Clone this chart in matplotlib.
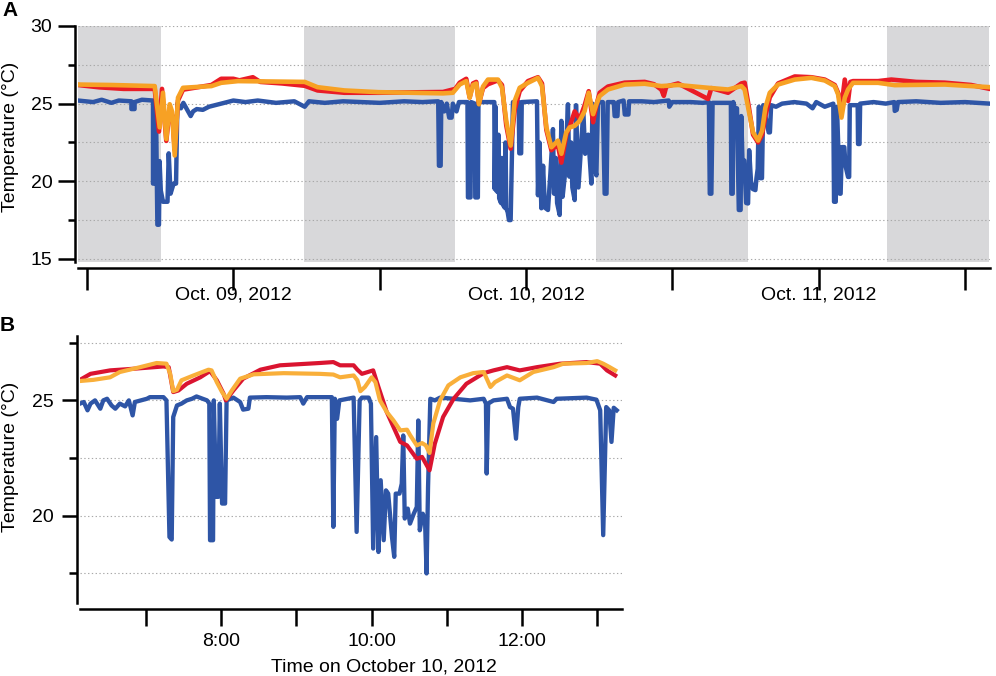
import matplotlib
matplotlib.use("Agg")
import matplotlib.pyplot as plt
from matplotlib.ticker import FixedLocator, FixedFormatter

plt.rcParams["font.family"] = ["Liberation Sans", "DejaVu Sans"]
plt.rcParams["font.size"] = 14

BLUE = "#2E55A6"
RED_A = "#EA1C26"
ORANGE_A = "#F7A124"
RED_B = "#DA1430"
ORANGE_B = "#F9AF3A"
NIGHT = "#D8D8DA"
GRID = "#A8A8A8"

# ---- panel A: hours after Oct. 09, 2012 00:00 ----
A_XLIM = (-0.74, 74.05)
A_NIGHTS = [(-0.74, 6.1), (17.8, 30.15), (41.75, 54.2), (65.6, 74.0)]
A_TICKS = [0, 12, 24, 36, 48, 60, 72]
A_TICK_LABELS = ["", "Oct. 09, 2012", "", "Oct. 10, 2012", "", "Oct. 11, 2012", ""]

A_ORANGE = [
    (-0.74, 26.23), (2.0, 26.2), (5.55, 26.13), (5.96, 23.47), (6.23, 25.7),
    (6.5, 22.72), (6.78, 24.96), (6.97, 24.5), (7.19, 21.66), (7.46, 25.38),
    (7.87, 26.02), (10.2, 26.13), (11.0, 26.34), (12.38, 26.45), (17.85, 26.4),
    (18.9, 26.06), (21.1, 25.85), (23.87, 25.74), (29.19, 25.66), (30.0, 25.7),
    (30.56, 26.23), (31.1, 26.45), (31.38, 25.38), (31.65, 26.2), (31.92, 26.3),
    (32.14, 24.96), (32.47, 26.1), (32.88, 26.55), (33.7, 26.55), (34.03, 26.02),
    (34.38, 23.9), (34.74, 22.3), (35.07, 25.17), (35.48, 26.02), (36.16, 26.34),
    (36.98, 26.66), (37.31, 26.13), (37.67, 23.47), (38.08, 22.19), (38.35, 22.4),
    (38.62, 22.62), (38.9, 21.77), (39.3, 23.15), (39.58, 23.47), (39.99, 23.57),
    (40.4, 23.89), (40.81, 24.53), (41.14, 25.7), (41.5, 24.32), (41.77, 24.96),
    (42.04, 25.49), (42.72, 25.91), (44.09, 26.23), (45.73, 26.28), (47.1, 26.13),
    (48.47, 26.2), (50.93, 26.02), (52.57, 25.91), (53.66, 26.13), (53.93, 25.91),
    (54.27, 24.53), (54.62, 23.15), (55.03, 22.62), (55.36, 23.26), (55.63, 24.74),
    (55.99, 25.7), (56.67, 26.23), (58.04, 26.55), (59.4, 26.66), (60.5, 26.49),
    (61.32, 26.13), (61.59, 25.6), (61.87, 24.1), (62.14, 25.38), (62.41, 25.91),
    (62.82, 26.34), (64.87, 26.34), (66.24, 26.19), (70.34, 26.23), (74.03, 26.06),
]

A_RED = [
    (-0.74, 26.2), (1.0, 26.05), (3.0, 25.95), (5.55, 25.95), (5.9, 23.2),
    (6.15, 25.95), (6.5, 22.6), (6.78, 24.7), (7.0, 24.2), (7.19, 22.0),
    (7.46, 25.2), (7.87, 25.9), (10.2, 26.2), (11.0, 26.6), (12.0, 26.6),
    (12.5, 26.5), (13.6, 26.7), (14.2, 26.4), (16.0, 26.3), (17.85, 26.15),
    (18.9, 25.85), (21.1, 25.7), (23.87, 25.7), (29.19, 25.75), (30.2, 25.95),
    (30.56, 26.35), (31.1, 26.6), (31.38, 25.4), (31.65, 26.3), (31.92, 26.4),
    (32.14, 25.0), (32.47, 26.0), (32.88, 26.25), (33.7, 26.5), (34.03, 26.2),
    (34.38, 23.6), (34.74, 22.1), (35.07, 24.6), (35.48, 25.8), (36.16, 26.45),
    (36.98, 26.7), (37.31, 26.3), (37.67, 23.3), (38.08, 22.0), (38.35, 22.2),
    (38.62, 22.3), (38.9, 21.2), (39.3, 23.0), (39.58, 23.5), (39.99, 24.5),
    (40.4, 24.0), (40.81, 24.9), (41.14, 25.8), (41.5, 23.8), (41.77, 24.9),
    (42.04, 25.7), (42.72, 26.1), (44.09, 26.35), (45.73, 26.4), (46.5, 26.25),
    (47.1, 25.9), (47.3, 25.5), (47.5, 26.1), (48.47, 26.3), (50.93, 25.3),
    (51.2, 26.0), (52.57, 25.7), (53.66, 26.3), (53.93, 26.35), (54.27, 24.8),
    (54.62, 23.0), (55.03, 22.5), (55.36, 23.0), (55.63, 24.2), (55.99, 25.4),
    (56.67, 26.3), (58.04, 26.75), (59.4, 26.7), (60.5, 26.55), (61.32, 26.2),
    (61.59, 25.7), (61.87, 24.8), (62.14, 26.55), (62.41, 25.17), (62.6, 26.4),
    (62.82, 26.45), (64.87, 26.45), (65.96, 26.55), (68.0, 26.4), (70.34, 26.35),
    (72.5, 26.2), (74.03, 25.95),
]

A_BLUE = [
    (-0.74, 25.2), (0.5, 25.1), (1.2, 25.25), (2.0, 25.05), (2.6, 25.2),
    (3.64, 25.15), (3.64, 24.65), (3.9, 24.65), (3.9, 25.1), (4.5, 25.25),
    (5.41, 25.2), (5.41, 19.85), (5.6, 19.85), (5.65, 25.0), (5.77, 17.2),
    (5.9, 17.2), (5.95, 21.3), (6.05, 19.4), (6.23, 18.68), (6.6, 18.68),
    (6.7, 21.8), (6.85, 19.2), (7.1, 19.85), (7.3, 19.85), (7.41, 25.0),
    (7.7, 24.7), (7.9, 25.05), (8.5, 24.2), (8.7, 24.5), (9.0, 24.65),
    (9.5, 24.6), (10.0, 24.8), (11.0, 25.0), (12.0, 25.2), (13.0, 25.1),
    (14.0, 25.2), (15.5, 25.05), (17.0, 25.15), (17.85, 24.8), (18.2, 25.15),
    (19.5, 25.05), (21.0, 25.15), (22.5, 25.1), (24.0, 25.05), (26.0, 25.15),
    (27.5, 25.1), (28.8, 25.15), (28.86, 21.0), (29.0, 21.0), (29.05, 25.1),
    (29.3, 24.5), (29.5, 25.0), (29.7, 24.1), (29.9, 24.1), (30.0, 25.0),
    (30.3, 24.5), (30.5, 25.1), (31.2, 25.1), (31.24, 18.96), (31.45, 18.96),
    (31.5, 25.1), (31.8, 25.0), (31.84, 18.96), (32.05, 18.96), (32.1, 25.1),
    (33.4, 25.1), (33.43, 19.5), (33.5, 24.8), (33.56, 19.4), (33.68, 19.3),
    (33.74, 23.0), (33.8, 18.9), (33.95, 18.6), (34.02, 21.5), (34.1, 18.5),
    (34.25, 18.3), (34.32, 22.5), (34.38, 18.26), (34.5, 18.0), (34.6, 17.5),
    (34.74, 17.5), (34.93, 25.1), (35.4, 25.1), (35.45, 21.8),
    (35.6, 21.8), (35.65, 25.1), (36.9, 25.15), (36.98, 19.1), (37.1, 22.5),
    (37.26, 18.26), (37.4, 21.0), (37.55, 18.3), (37.8, 18.15), (38.0, 20.5),
    (38.21, 23.36), (38.3, 19.2), (38.45, 21.5), (38.55, 18.6),
    (38.76, 17.83), (38.9, 23.89), (39.0, 19.0), (39.2, 20.5), (39.44, 24.96),
    (39.55, 20.3), (39.7, 22.5), (39.8, 19.6), (39.99, 18.79), (40.1, 24.9),
    (40.3, 19.6), (40.5, 22.0), (40.7, 24.5), (40.85, 21.77), (41.1, 23.0),
    (41.36, 19.85), (41.45, 25.0), (41.6, 21.0), (41.77, 20.38), (41.9, 25.1),
    (42.3, 25.1), (42.45, 19.2), (42.6, 19.2), (42.7, 25.1), (43.2, 25.1),
    (43.27, 24.2), (43.5, 24.2), (43.55, 25.1), (44.0, 25.2), (44.1, 24.3),
    (44.4, 24.3), (44.45, 25.15), (45.5, 25.15), (46.5, 25.1), (47.7, 25.2),
    (47.75, 24.8), (48.0, 25.1), (49.5, 25.1), (50.5, 25.05), (51.0, 25.1),
    (51.07, 19.2), (51.2, 19.2), (51.3, 25.05), (52.8, 25.05), (52.84, 19.2),
    (52.95, 19.2), (53.0, 25.1), (53.1, 24.7), (53.3, 24.7), (53.45, 18.15),
    (53.6, 18.15), (53.65, 24.2), (53.75, 21.34), (53.9, 21.34), (54.05, 18.6),
    (54.21, 18.57), (54.3, 22.0), (54.45, 20.0), (54.6, 19.5), (54.81, 19.43),
    (54.9, 20.2), (55.0, 20.8), (55.1, 24.8), (55.2, 20.2), (55.35, 20.2),
    (55.45, 24.9), (55.9, 23.15), (56.0, 23.15), (56.1, 24.9), (56.5, 24.8),
    (57.0, 25.0), (58.0, 25.1), (59.0, 25.0), (59.5, 24.7), (59.8, 25.1),
    (60.5, 24.8), (61.2, 25.0), (61.26, 18.68), (61.4, 18.68), (61.5, 24.8),
    (61.73, 19.2), (61.8, 19.2), (61.9, 22.2), (62.1, 22.2), (62.2, 21.0),
    (62.41, 20.28), (62.5, 20.28), (62.55, 24.9), (63.2, 24.9), (63.23, 22.4),
    (63.35, 22.4), (63.4, 25.0), (64.5, 25.1), (65.5, 25.0), (66.2, 25.1),
    (66.24, 24.53), (66.4, 24.6), (66.5, 25.1), (68.0, 25.15), (70.0, 25.05),
    (72.0, 25.1), (74.03, 25.0),
]

# ---- panel B: clock hours on Oct. 10, 2012 ----
B_XLIM = (6.12, 13.33)
B_TICKS = [7, 8, 9, 10, 11, 12, 13]
B_TICK_LABELS = ["", "8:00", "", "10:00", "", "12:00", ""]

B_ORANGE = [
    (6.12, 25.84), (6.3, 25.89), (6.52, 26.0), (6.65, 26.23), (6.92, 26.44),
    (7.14, 26.62), (7.27, 26.59), (7.32, 26.15), (7.36, 25.4), (7.41, 25.46),
    (7.47, 25.87), (7.63, 26.08), (7.83, 26.33), (7.87, 26.3), (7.94, 25.79),
    (8.01, 25.36), (8.07, 25.07), (8.14, 25.43), (8.25, 25.94), (8.43, 26.13),
    (8.83, 26.18), (9.31, 26.15), (9.49, 26.12), (9.58, 26.0), (9.76, 26.08),
    (9.81, 25.87), (9.85, 25.4), (9.91, 25.58), (10.0, 26.0), (10.05, 25.79),
    (10.11, 25.0), (10.2, 24.5), (10.29, 24.13), (10.38, 23.7), (10.47, 23.73),
    (10.51, 23.5), (10.6, 23.05), (10.67, 23.15), (10.72, 23.05), (10.77, 22.72),
    (10.82, 24.0), (10.91, 25.0), (11.02, 25.65), (11.18, 26.0), (11.35, 26.18),
    (11.49, 26.23), (11.53, 25.94), (11.58, 25.58), (11.64, 25.79), (11.8, 26.08),
    (11.97, 25.87), (12.15, 26.23), (12.42, 26.44), (12.55, 26.59), (12.86, 26.62),
    (13.0, 26.7), (13.08, 26.59), (13.16, 26.45), (13.24, 26.3),
]

B_RED = [
    (6.12, 25.89), (6.26, 26.15), (6.52, 26.3), (6.83, 26.37), (7.23, 26.47),
    (7.3, 26.44), (7.36, 25.36), (7.43, 25.43), (7.54, 25.72), (7.72, 26.0),
    (7.85, 26.27), (7.94, 25.87), (8.03, 25.29), (8.06, 25.0), (8.16, 25.43),
    (8.29, 25.94), (8.52, 26.33), (8.78, 26.52), (9.31, 26.62), (9.49, 26.66),
    (9.58, 26.52), (9.76, 26.52), (9.81, 26.33), (9.87, 26.15), (10.02, 26.3),
    (10.09, 25.58), (10.2, 24.5), (10.38, 23.2), (10.47, 23.05), (10.6, 22.47),
    (10.67, 22.55), (10.77, 21.97), (10.84, 23.12), (10.95, 24.28), (11.09, 25.07),
    (11.26, 25.72), (11.49, 26.18), (11.62, 26.3), (11.8, 26.44), (11.97, 26.3),
    (12.2, 26.44), (12.51, 26.59), (12.86, 26.66), (13.04, 26.59), (13.13, 26.3),
    (13.24, 26.08),
]

B_BLUE = [
    (6.12, 24.86), (6.17, 24.93), (6.22, 24.57), (6.26, 24.86), (6.32, 25.0),
    (6.39, 24.64), (6.43, 25.0), (6.48, 25.07), (6.54, 24.78), (6.59, 24.64),
    (6.65, 24.86), (6.72, 24.74), (6.77, 25.0), (6.82, 24.35), (6.85, 24.93),
    (7.01, 25.07), (7.05, 25.14), (7.23, 25.14), (7.27, 25.0), (7.31, 19.08),
    (7.34, 18.97), (7.36, 24.28), (7.41, 24.78), (7.47, 24.86), (7.54, 25.0),
    (7.61, 25.07), (7.67, 25.17), (7.81, 25.0), (7.84, 24.86), (7.85, 18.94),
    (7.89, 18.94), (7.9, 25.0), (7.93, 20.82), (7.96, 20.82), (7.98, 24.86),
    (8.01, 20.53), (8.05, 20.53), (8.07, 25.0), (8.16, 25.12), (8.25, 24.93),
    (8.29, 24.6), (8.36, 24.64), (8.38, 25.12), (8.6, 25.14), (8.87, 25.12),
    (9.05, 25.14), (9.09, 24.86), (9.14, 25.14), (9.31, 25.14), (9.47, 25.14),
    (9.49, 19.52), (9.51, 25.07), (9.54, 24.2), (9.57, 25.0), (9.76, 25.12),
    (9.8, 19.3), (9.84, 25.0), (9.87, 25.12), (9.96, 25.12), (9.99, 24.86),
    (10.02, 18.58), (10.06, 23.41), (10.09, 18.43), (10.12, 21.54), (10.16, 18.94),
    (10.19, 21.1), (10.22, 20.96), (10.27, 19.08), (10.3, 18.22), (10.32, 20.96),
    (10.37, 20.96), (10.4, 21.39), (10.42, 23.48), (10.44, 19.88), (10.48, 20.31),
    (10.51, 19.66), (10.56, 20.09), (10.6, 20.38), (10.62, 24.13), (10.64, 19.37),
    (10.68, 20.09), (10.71, 19.8), (10.73, 17.5), (10.75, 21.25), (10.78, 25.07),
    (10.84, 25.0), (10.91, 25.12), (11.09, 25.07), (11.31, 25.0), (11.49, 25.07),
    (11.52, 24.86), (11.53, 21.83), (11.55, 24.86), (11.62, 25.0), (11.8, 25.07),
    (11.84, 24.71), (11.88, 24.64), (11.92, 23.34), (11.95, 24.71), (11.97, 25.07),
    (12.2, 25.12), (12.42, 24.93), (12.46, 25.07), (12.86, 25.12), (12.99, 25.03),
    (13.04, 24.57), (13.08, 19.16), (13.12, 24.71), (13.16, 24.57), (13.19, 23.2),
    (13.22, 24.68), (13.26, 24.57),
]


def unzip(points):
    return [p[0] for p in points], [p[1] for p in points]


def style_axis(ax, ylim, major_y, minor_y, xlen, ylen, ymlen, ypad, xpad):
    ax.set_ylim(*ylim)
    for side in ["top", "right"]:
        ax.spines[side].set_visible(False)
    for side in ["left", "bottom"]:
        ax.spines[side].set_linewidth(1.8)
    ax.spines["left"].set_position(("outward", 2))
    ax.spines["bottom"].set_position(("outward", 4))
    ax.set_yticks(major_y)
    ax.set_yticklabels([str(v) for v in major_y])
    ax.set_yticks(minor_y, minor=True)
    ax.tick_params(axis="y", which="major", direction="out", length=ylen,
                   width=1.8, pad=ypad)
    ax.tick_params(axis="y", which="minor", direction="out", length=ymlen,
                   width=1.8)
    ax.tick_params(axis="x", which="major", direction="out", length=xlen,
                   width=1.8, pad=xpad)
    for v in list(major_y) + list(minor_y):
        ax.axhline(v, color=GRID, lw=0.8, ls=(0, (1.2, 2.2)), zorder=0.5)


fig = plt.figure(figsize=(9.96, 6.76), dpi=100)

# panel A
ax_a = fig.add_axes([78 / 996, 1 - 262 / 676, 912 / 996, 236 / 676])
for start, end in A_NIGHTS:
    ax_a.axvspan(start, end, color=NIGHT, lw=0, zorder=0)
x, y = unzip(A_BLUE)
ax_a.plot(x, y, color=BLUE, lw=3.2, zorder=2)
x, y = unzip(A_RED)
ax_a.plot(x, y, color=RED_A, lw=3.3, zorder=3)
x, y = unzip(A_ORANGE)
ax_a.plot(x, y, color=ORANGE_A, lw=3.3, zorder=4)
ax_a.set_xlim(*A_XLIM)
ax_a.xaxis.set_major_locator(FixedLocator(A_TICKS))
ax_a.xaxis.set_major_formatter(FixedFormatter(A_TICK_LABELS))
style_axis(ax_a, (14.8, 30), [15, 20, 25, 30], [17.5, 22.5, 27.5],
           xlen=16, ylen=12, ymlen=5, ypad=4.5, xpad=-2.5)

# panel B
ax_b = fig.add_axes([80 / 996, 1 - 603 / 676, 542 / 996, 267 / 676])
x, y = unzip(B_BLUE)
ax_b.plot(x, y, color=BLUE, lw=3.1, zorder=2)
x, y = unzip(B_RED)
ax_b.plot(x, y, color=RED_B, lw=3.0, zorder=3)
x, y = unzip(B_ORANGE)
ax_b.plot(x, y, color=ORANGE_B, lw=3.0, zorder=4)
ax_b.set_xlim(*B_XLIM)
ax_b.xaxis.set_major_locator(FixedLocator(B_TICKS))
ax_b.xaxis.set_major_formatter(FixedFormatter(B_TICK_LABELS))
style_axis(ax_b, (16.22, 27.79), [20, 25], [17.5, 22.5, 27.5],
           xlen=12, ylen=11, ymlen=6, ypad=6, xpad=5.5)

fig.text(11 / 996, 1 - 137 / 676, "Temperature (°C)", rotation=90,
         ha="center", va="center")
fig.text(11 / 996, 1 - 457 / 676, "Temperature (°C)", rotation=90,
         ha="center", va="center")
fig.text(384 / 996, 1 - 671 / 676, "Time on October 10, 2012",
         ha="center", va="baseline")
fig.text(2 / 996, 1 - 1 / 676, "A", fontweight="bold", fontsize=15,
         ha="left", va="top")
fig.text(0 / 996, 1 - 316 / 676, "B", fontweight="bold", fontsize=15,
         ha="left", va="top")

fig.savefig("out.png", dpi=100)
